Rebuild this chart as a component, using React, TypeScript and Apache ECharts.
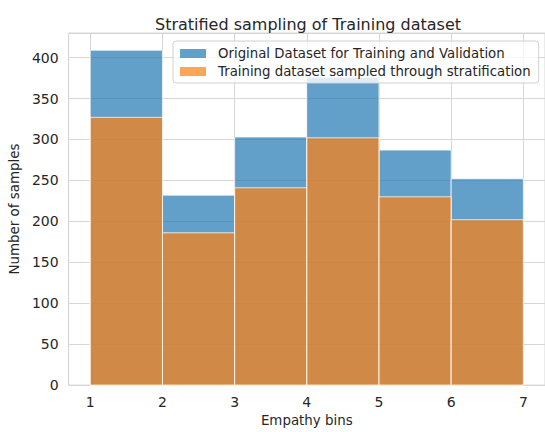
import React, { useEffect, useRef } from "react";
import * as echarts from "echarts";

const binEdges = [1, 2, 3, 4, 5, 6, 7];
const originalCounts = [409, 232, 303, 376, 287, 252];
const sampledCounts = [327, 186, 241, 302, 230, 202];
const seriesNames = [
  "Original Dataset for Training and Validation",
  "Training dataset sampled through stratification",
];
const yTicks = [0, 50, 100, 150, 200, 250, 300, 350, 400];

const BLUE = "rgba(31,119,180,0.7)";
const ORANGE = "rgba(255,127,14,0.7)";
const EDGE = "rgba(255,255,255,0.75)";
const FONT = "DejaVu Sans";
const TXT = "#262626";

function toBins(counts: number[]) {
  return counts.map((c, i) => [binEdges[i], binEdges[i + 1], c]);
}

function renderBar(color: string) {
  return (params: any, api: any) => {
    const x0 = api.value(0);
    const x1 = api.value(1);
    const y = api.value(2);
    const p0 = api.coord([x0, y]);
    const p1 = api.coord([x1, 0]);
    return {
      type: "rect",
      shape: { x: p0[0], y: p0[1], width: p1[0] - p0[0], height: p1[1] - p0[1] },
      style: { fill: color, stroke: EDGE, lineWidth: 1 },
    };
  };
}

export default function App() {
  const ref = useRef<HTMLDivElement>(null);
  useEffect(() => {
    if (!ref.current) return;
    const chart = echarts.init(ref.current, null, { renderer: "svg" });
    chart.setOption({
      animation: false,
      textStyle: { fontFamily: FONT, color: TXT },
      title: {
        text: "Stratified sampling of Training dataset",
        left: 303,
        top: 11,
        textAlign: "center",
        textStyle: { fontFamily: FONT, color: TXT, fontSize: 16, fontWeight: "normal" },
      },
      legend: {
        orient: "vertical",
        left: 173,
        top: 41,
        padding: [6, 8, 5, 7],
        itemWidth: 26,
        itemHeight: 9,
        itemGap: 5,
        backgroundColor: "rgba(255,255,255,0.8)",
        borderColor: "#d0d0d0",
        borderWidth: 1,
        borderRadius: 3,
        textStyle: { fontFamily: FONT, color: TXT, fontSize: 13.3, padding: [0, 0, 0, 7] },
        data: [
          { name: seriesNames[0], icon: "rect", itemStyle: { color: BLUE, borderWidth: 0 } },
          { name: seriesNames[1], icon: "rect", itemStyle: { color: ORANGE, borderWidth: 0 } },
        ],
      },
      grid: {
        left: 65,
        top: 33,
        width: 481,
        height: 358,
        show: true,
        borderColor: "#d6d6d6",
        borderWidth: 1,
        backgroundColor: "transparent",
      },
      xAxis: {
        type: "value",
        min: 0.7,
        max: 7.3,
        splitNumber: 6,
        name: "Empathy bins",
        nameLocation: "middle",
        nameGap: 28,
        nameTextStyle: { fontFamily: FONT, color: TXT, fontSize: 13.4, verticalAlign: "top" },
        axisLine: { show: false },
        axisTick: { show: false },
        axisLabel: {
          fontFamily: FONT,
          color: TXT,
          fontSize: 14,
          margin: 10,
          showMinLabel: false,
          showMaxLabel: false,
          formatter: (v: number) => (binEdges.includes(v) ? String(v) : ""),
        },
        splitLine: { show: true, lineStyle: { color: "#d6d6d6", width: 1 } },
      },
      yAxis: {
        type: "value",
        min: 0,
        max: 430,
        interval: 50,
        name: "Number of samples",
        nameLocation: "middle",
        nameGap: 43,
        nameTextStyle: { fontFamily: FONT, color: TXT, fontSize: 13.4 },
        axisLine: { show: false },
        axisTick: { show: false },
        axisLabel: {
          fontFamily: FONT,
          color: TXT,
          fontSize: 14,
          margin: 10,
          showMaxLabel: false,
          formatter: (v: number) => (yTicks.includes(v) ? String(v) : ""),
        },
        splitLine: { show: true, lineStyle: { color: "#d6d6d6", width: 1 } },
      },
      series: [
        {
          name: seriesNames[0],
          type: "custom",
          renderItem: renderBar(BLUE),
          itemStyle: { color: BLUE },
          encode: { x: [0, 1], y: 2 },
          data: toBins(originalCounts),
          z: 2,
        },
        {
          name: seriesNames[1],
          type: "custom",
          renderItem: renderBar(ORANGE),
          itemStyle: { color: ORANGE },
          encode: { x: [0, 1], y: 2 },
          data: toBins(sampledCounts),
          z: 3,
        },
      ],
    });
    return () => chart.dispose();
  }, []);
  return (
    <div
      ref={ref}
      style={{ position: "fixed", left: 0, top: 0, width: 545, height: 432, background: "#fff" }}
    />
  );
}
